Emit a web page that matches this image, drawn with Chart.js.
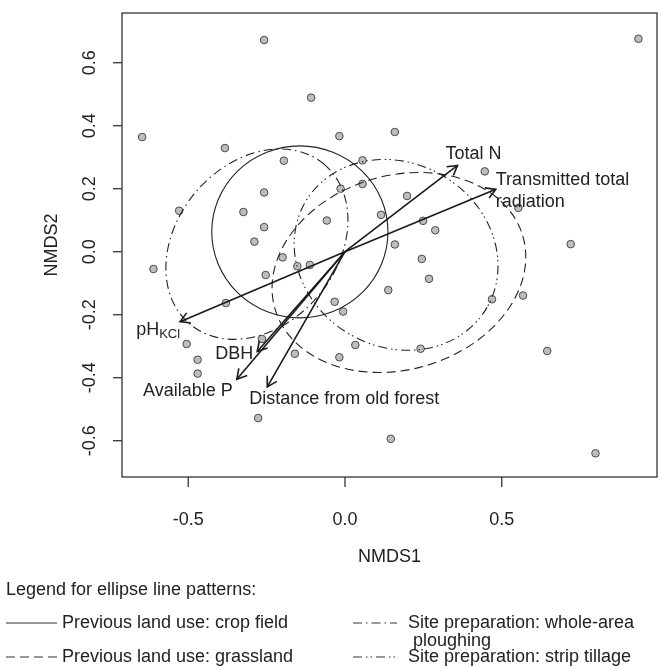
<!DOCTYPE html>
<html>
<head>
<meta charset="utf-8">
<script src="https://cdn.jsdelivr.net/npm/chart.js@4.4.1/dist/chart.umd.min.js"></script>
<style>
  html, body { margin: 0; padding: 0; background: #fff; }
  #wrap { width: 672px; height: 667px; }
</style>
</head>
<body>
<div id="wrap"><canvas id="nmds" width="672" height="667"></canvas></div>
<script>
// site scores
const siteX = [-0.258, 0.936, -0.108, -0.647, -0.383, -0.018, 0.159, -0.195, 0.056, -0.258,
               0.446, -0.324, -0.258, -0.289, -0.529, -0.611, -0.199, -0.152, -0.112, -0.253,
               -0.380, -0.014, 0.056, 0.198, -0.058, 0.115, 0.249, 0.288, 0.159, 0.245,
               0.268, 0.138, -0.033, -0.006, 0.553, 0.720, 0.469, 0.568, 0.645, 0.799,
               0.033, -0.018, 0.241, 0.146, -0.505, -0.470, -0.470, -0.265, -0.160, -0.277];
const siteY = [0.672, 0.676, 0.489, 0.364, 0.329, 0.367, 0.380, 0.289, 0.290, 0.188,
               0.255, 0.126, 0.078, 0.032, 0.130, -0.055, -0.018, -0.046, -0.042, -0.074,
               -0.163, 0.200, 0.215, 0.177, 0.099, 0.117, 0.098, 0.068, 0.023, -0.023,
               -0.086, -0.122, -0.159, -0.190, 0.139, 0.024, -0.151, -0.139, -0.315, -0.640,
               -0.296, -0.335, -0.308, -0.594, -0.293, -0.343, -0.387, -0.277, -0.324, -0.528];

// fitted environmental vectors (arrow tips, origin at 0,0)
const vectorNames = ['Total N', 'Transmitted total\nradiation', 'pH|KCl', 'DBH', 'Available P', 'Distance from old forest'];
const vectorX = [0.359, 0.481, -0.526, -0.280, -0.345, -0.248];
const vectorY = [0.274, 0.198, -0.222, -0.317, -0.405, -0.429];

// group ellipses
const ellipseNames = ['Previous land use: crop field', 'Previous land use: grassland',
                      'Site preparation: whole-area\n ploughing', 'Site preparation: strip tillage'];
const ellipseCx = [-0.144, 0.172, -0.281, 0.163];
const ellipseCy = [0.063, -0.066, 0.024, -0.010];
const ellipseRa = [0.281, 0.412, 0.333, 0.335];
const ellipseRb = [0.273, 0.308, 0.255, 0.292];
const ellipseAngle = [0, 16.5, 50, -30];

// axis ticks
const xTicks = [-0.5, 0, 0.5];
const xTickLabels = ['-0.5', '0.0', '0.5'];
const yTicks = [-0.6, -0.4, -0.2, 0, 0.2, 0.4, 0.6];
const yTickLabels = ['-0.6', '-0.4', '-0.2', '0.0', '0.2', '0.4', '0.6'];

const FONT = '"Liberation Sans", Arial, sans-serif';
const INK = '#222';
const dashes = [[], [9, 5], [9, 4, 1.5, 4], [9, 4, 1.5, 3, 1.5, 4]];

// where each vector label sits relative to its arrow tip (px)
const labelPlace = [
    { dx: 16, dy: -11, align: 'center' },
    { dx: 0, dy: -9, align: 'left' },
    { dx: 0, dy: 8, align: 'right' },
    { dx: -4, dy: 2, align: 'right' },
    { dx: -4, dy: 12, align: 'right' },
    { dx: -18, dy: 12, align: 'left' }
];

const points = siteX.map((x, i) => ({ x: x, y: siteY[i] }));

const arrowSets = vectorX.map((x, i) => ({
    type: 'line',
    label: vectorNames[i],
    data: [{ x: 0, y: 0 }, { x: x, y: vectorY[i] }],
    borderColor: '#1a1a1a',
    borderWidth: 1.6,
    pointRadius: 0,
    fill: false,
    order: 1
}));

const ordiPlugin = {
    id: 'ordi',
    afterDatasetDraw(chart, args) {
        // ellipses go on top of the points, under the arrows
        if (args.index !== 0) return;
        const ctx = chart.ctx;
        const sx = chart.scales.x, sy = chart.scales.y;
        const ux = sx.getPixelForValue(1) - sx.getPixelForValue(0);
        const uy = sy.getPixelForValue(0) - sy.getPixelForValue(1);
        ctx.save();
        ctx.strokeStyle = INK;
        ctx.lineWidth = 1.1;
        for (let i = 0; i < ellipseCx.length; i++) {
            ctx.setLineDash(dashes[i]);
            ctx.beginPath();
            ctx.ellipse(sx.getPixelForValue(ellipseCx[i]), sy.getPixelForValue(ellipseCy[i]),
                ellipseRa[i] * ux, ellipseRb[i] * uy, -ellipseAngle[i] * Math.PI / 180, 0, Math.PI * 2);
            ctx.stroke();
        }
        ctx.restore();
    },
    afterDatasetsDraw(chart) {
        const ctx = chart.ctx;
        const sx = chart.scales.x, sy = chart.scales.y;
        const ox = sx.getPixelForValue(0), oy = sy.getPixelForValue(0);
        ctx.save();
        ctx.strokeStyle = '#1a1a1a';
        ctx.lineWidth = 1.6;
        ctx.fillStyle = INK;
        ctx.textBaseline = 'middle';
        for (let i = 0; i < vectorX.length; i++) {
            const tx = sx.getPixelForValue(vectorX[i]);
            const ty = sy.getPixelForValue(vectorY[i]);
            const a = Math.atan2(ty - oy, tx - ox);
            ctx.beginPath();
            ctx.moveTo(tx + 11 * Math.cos(a + Math.PI - Math.PI / 6), ty + 11 * Math.sin(a + Math.PI - Math.PI / 6));
            ctx.lineTo(tx, ty);
            ctx.lineTo(tx + 11 * Math.cos(a + Math.PI + Math.PI / 6), ty + 11 * Math.sin(a + Math.PI + Math.PI / 6));
            ctx.stroke();

            const p = labelPlace[i];
            const lx = tx + p.dx, ly = ty + p.dy;
            const name = vectorNames[i];
            if (name.indexOf('|') >= 0) {
                // main text with a subscript
                const parts = name.split('|');
                ctx.font = '18px ' + FONT;
                const w1 = ctx.measureText(parts[0]).width;
                ctx.font = '13px ' + FONT;
                const w2 = ctx.measureText(parts[1]).width;
                let left = lx;
                if (p.align === 'right') left = lx - w1 - w2;
                if (p.align === 'center') left = lx - (w1 + w2) / 2;
                ctx.textAlign = 'left';
                ctx.font = '18px ' + FONT;
                ctx.fillText(parts[0], left, ly);
                ctx.font = '13px ' + FONT;
                ctx.fillText(parts[1], left + w1, ly + 5);
            } else {
                ctx.font = '18px ' + FONT;
                ctx.textAlign = p.align;
                name.split('\n').forEach((line, k) => ctx.fillText(line, lx, ly + k * 22));
            }
        }
        ctx.restore();
    },
    afterDraw(chart) {
        const ctx = chart.ctx;
        const area = chart.chartArea;
        const sx = chart.scales.x, sy = chart.scales.y;
        ctx.save();
        ctx.strokeStyle = '#333';
        ctx.lineWidth = 1.3;
        ctx.setLineDash([]);
        ctx.strokeRect(area.left, area.top, area.right - area.left, area.bottom - area.top);

        ctx.fillStyle = INK;
        ctx.font = '18px ' + FONT;
        ctx.textAlign = 'center';
        ctx.textBaseline = 'middle';
        xTicks.forEach((v, i) => {
            const px = sx.getPixelForValue(v);
            ctx.beginPath();
            ctx.moveTo(px, area.bottom);
            ctx.lineTo(px, area.bottom + 10);
            ctx.stroke();
            ctx.fillText(xTickLabels[i], px, area.bottom + 43);
        });
        yTicks.forEach((v, i) => {
            const py = sy.getPixelForValue(v);
            ctx.beginPath();
            ctx.moveTo(area.left, py);
            ctx.lineTo(area.left - 9, py);
            ctx.stroke();
            ctx.save();
            ctx.translate(area.left - 32, py);
            ctx.rotate(-Math.PI / 2);
            ctx.fillText(yTickLabels[i], 0, 0);
            ctx.restore();
        });
        ctx.fillText('NMDS1', (area.left + area.right) / 2, area.bottom + 80);
        ctx.save();
        ctx.translate(area.left - 70, (area.top + area.bottom) / 2);
        ctx.rotate(-Math.PI / 2);
        ctx.fillText('NMDS2', 0, 0);
        ctx.restore();

        // legend for the ellipse line patterns
        ctx.textAlign = 'left';
        ctx.fillText('Legend for ellipse line patterns:', 6, 590);
        const cols = [{ x0: 6, x1: 57, tx: 62 }, { x0: 353, x1: 397, tx: 408 }];
        const rows = [623, 657];
        const slots = [[0, 0], [0, 1], [1, 0], [1, 1]];
        ctx.lineWidth = 1.1;
        ellipseNames.forEach((name, i) => {
            const c = cols[slots[i][0]], y = rows[slots[i][1]];
            ctx.setLineDash(dashes[i]);
            ctx.beginPath();
            ctx.moveTo(c.x0, y);
            ctx.lineTo(c.x1, y);
            ctx.stroke();
            name.split('\n').forEach((line, k) => ctx.fillText(line, c.tx, y + k * 18));
        });
        ctx.restore();
    }
};

new Chart(document.getElementById('nmds'), {
    type: 'scatter',
    data: {
        datasets: [{
            label: 'Sites',
            data: points,
            pointRadius: 3.8,
            pointBackgroundColor: '#bdbdbd',
            pointBorderColor: '#4a4a4a',
            pointBorderWidth: 1,
            order: 3
        }].concat(arrowSets)
    },
    options: {
        responsive: false,
        animation: false,
        layout: { padding: { left: 122, top: 13, right: 15, bottom: 190 } },
        scales: {
            x: { type: 'linear', min: -0.7113, max: 0.9952, display: false },
            y: { type: 'linear', min: -0.7152, max: 0.7578, display: false }
        },
        plugins: {
            legend: { display: false },
            tooltip: { enabled: false }
        }
    },
    plugins: [ordiPlugin]
});
</script>
</body>
</html>
